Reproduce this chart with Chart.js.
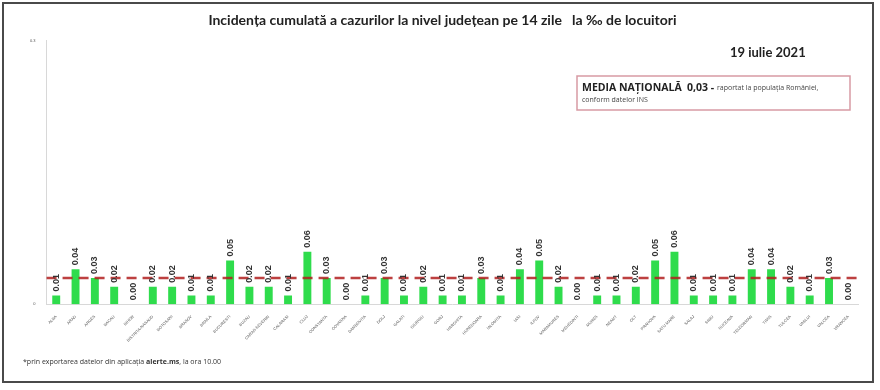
<!DOCTYPE html>
<html>
<head>
<meta charset="utf-8">
<script src="https://cdn.jsdelivr.net/npm/chart.js@4/dist/chart.umd.min.js"></script>
<style>
  html, body { margin: 0; padding: 0; background: #ffffff; }
  #wrap { width: 880px; height: 390px; position: relative; }
</style>
</head>
<body>
<div id="wrap"><canvas id="chart"></canvas></div>
<script>
// Judete (ordine alfabetica, ca in raport)
const counties = [
    "ALBA", "ARAD", "ARGES", "BACAU", "BIHOR", "BISTRITA-NASAUD", "BOTOSANI",
    "BRASOV", "BRAILA", "BUCURESTI", "BUZAU", "CARAS-SEVERIN", "CALARASI",
    "CLUJ", "CONSTANTA", "COVASNA", "DAMBOVITA", "DOLJ", "GALATI", "GIURGIU",
    "GORJ", "HARGHITA", "HUNEDOARA", "IALOMITA", "IASI", "ILFOV", "MARAMURES",
    "MEHEDINTI", "MURES", "NEAMT", "OLT", "PRAHOVA", "SATU MARE", "SALAJ",
    "SIBIU", "SUCEAVA", "TELEORMAN", "TIMIS", "TULCEA", "VASLUI", "VALCEA",
    "VRANCEA",
];

// Incidenta la mie de locuitori, 14 zile
const incidence = [
    0.01, 0.04, 0.03, 0.02, 0.00, 0.02, 0.02,
    0.01, 0.01, 0.05, 0.02, 0.02, 0.01,
    0.06, 0.03, 0.00, 0.01, 0.03, 0.01, 0.02,
    0.01, 0.01, 0.03, 0.01, 0.04, 0.05, 0.02,
    0.00, 0.01, 0.01, 0.02, 0.05, 0.06, 0.01,
    0.01, 0.01, 0.04, 0.04, 0.02, 0.01, 0.03,
    0.00,
];

const nationalAverage = 0.03;
const yTicks = [0, 0.3];

const titleText = "Incidența cumulată a cazurilor la nivel județean pe 14 zile   la ‰ de locuitori";
const dateText = "19 iulie 2021";

// Extra drawing: frame, date, info box, footnote, average line, value labels
const decorPlugin = {
    id: "decor",
    afterDatasetsDraw(chart) {
        const ctx = chart.ctx;
        const y = chart.scales.y;
        const area = chart.chartArea;

        // linia mediei nationale
        const yAvg = y.getPixelForValue(nationalAverage);
        ctx.save();
        ctx.strokeStyle = "rgba(178, 30, 30, 0.85)";
        ctx.lineWidth = 2.5;
        ctx.setLineDash([10, 6]);
        ctx.beginPath();
        ctx.moveTo(area.left, yAvg);
        ctx.lineTo(area.right, yAvg);
        ctx.stroke();
        ctx.restore();

        // valori rotite deasupra barelor
        const meta = chart.getDatasetMeta(0);
        ctx.save();
        ctx.fillStyle = "#333333";
        ctx.font = "bold 9px 'Liberation Sans', Arial, sans-serif";
        ctx.textAlign = "left";
        ctx.textBaseline = "middle";
        meta.data.forEach((bar, i) => {
            const top = y.getPixelForValue(incidence[i]);
            ctx.save();
            ctx.translate(bar.x, top - 4);
            ctx.rotate(-Math.PI / 2);
            ctx.fillText(incidence[i].toFixed(2), 0, 0);
            ctx.restore();
        });
        ctx.restore();
    },
    afterDraw(chart) {
        const ctx = chart.ctx;
        ctx.save();

        // rama
        ctx.strokeStyle = "#4a4a4a";
        ctx.lineWidth = 2;
        ctx.strokeRect(3, 3, 870, 379);

        // data
        ctx.fillStyle = "#222222";
        ctx.font = "bold 13px Lato, 'Open Sans', sans-serif";
        ctx.textAlign = "left";
        ctx.textBaseline = "middle";
        ctx.fillText(dateText, 730, 53);

        // caseta media nationala
        ctx.strokeStyle = "#d79aa4";
        ctx.lineWidth = 1.5;
        ctx.strokeRect(577, 76, 273, 34);
        ctx.fillStyle = "#222222";
        ctx.font = "bold 10.5px 'Open Sans', sans-serif";
        const part1 = "MEDIA NAȚIONALĂ  0,03 - ";
        ctx.fillText(part1, 582, 88);
        const w1 = ctx.measureText(part1).width;
        ctx.font = "7px 'Open Sans', sans-serif";
        ctx.fillStyle = "#444444";
        ctx.fillText("raportat la populația României,", 582 + w1, 88);
        ctx.fillText("conform datelor INS", 582, 100);

        // nota de subsol
        ctx.fillStyle = "#333333";
        ctx.font = "7px 'Open Sans', sans-serif";
        const n1 = "*prin exportarea datelor din aplicația ";
        ctx.fillText(n1, 23, 362);
        let nx = 23 + ctx.measureText(n1).width;
        ctx.font = "bold 7px 'Open Sans', sans-serif";
        ctx.fillText("alerte.ms", nx, 362);
        nx += ctx.measureText("alerte.ms").width;
        ctx.font = "7px 'Open Sans', sans-serif";
        ctx.fillText(", la ora 10.00", nx, 362);

        ctx.restore();
    },
};

new Chart(document.getElementById("chart"), {
    type: "bar",
    data: {
        labels: counties,
        datasets: [
            {
                data: incidence,
                backgroundColor: "#2fdc4c",
                borderWidth: 0,
                barPercentage: 0.82,
                categoryPercentage: 0.5,
            },
        ],
    },
    options: {
        responsive: true,
        maintainAspectRatio: false,
        animation: false,
        layout: {
            padding: { left: 27, right: 22, top: 0, bottom: 45 },
        },
        scales: {
            x: {
                grid: { display: false },
                border: { color: "#d8d8d8" },
                ticks: {
                    color: "#555555",
                    font: { size: 4, family: "'Liberation Sans', Arial" },
                    minRotation: 45,
                    maxRotation: 45,
                    autoSkip: false,
                    padding: 2,
                },
            },
            y: {
                min: 0,
                max: 0.3,
                afterBuildTicks(axis) {
                    axis.ticks = yTicks.map((v) => ({ value: v }));
                },
                grid: { display: false },
                border: { color: "#d8d8d8" },
                ticks: {
                    color: "#555555",
                    font: { size: 4, family: "'Liberation Sans', Arial" },
                    padding: 3,
                    callback: (v) => (v === 0 ? "0" : String(v)),
                },
            },
        },
        plugins: {
            legend: { display: false },
            tooltip: { enabled: false },
            title: {
                display: true,
                text: titleText,
                color: "#222222",
                font: { size: 14, weight: "bold", family: "Lato, 'Open Sans', sans-serif" },
                padding: { top: 12, bottom: 12 },
            },
        },
    },
    plugins: [decorPlugin],
});
</script>
</body>
</html>
